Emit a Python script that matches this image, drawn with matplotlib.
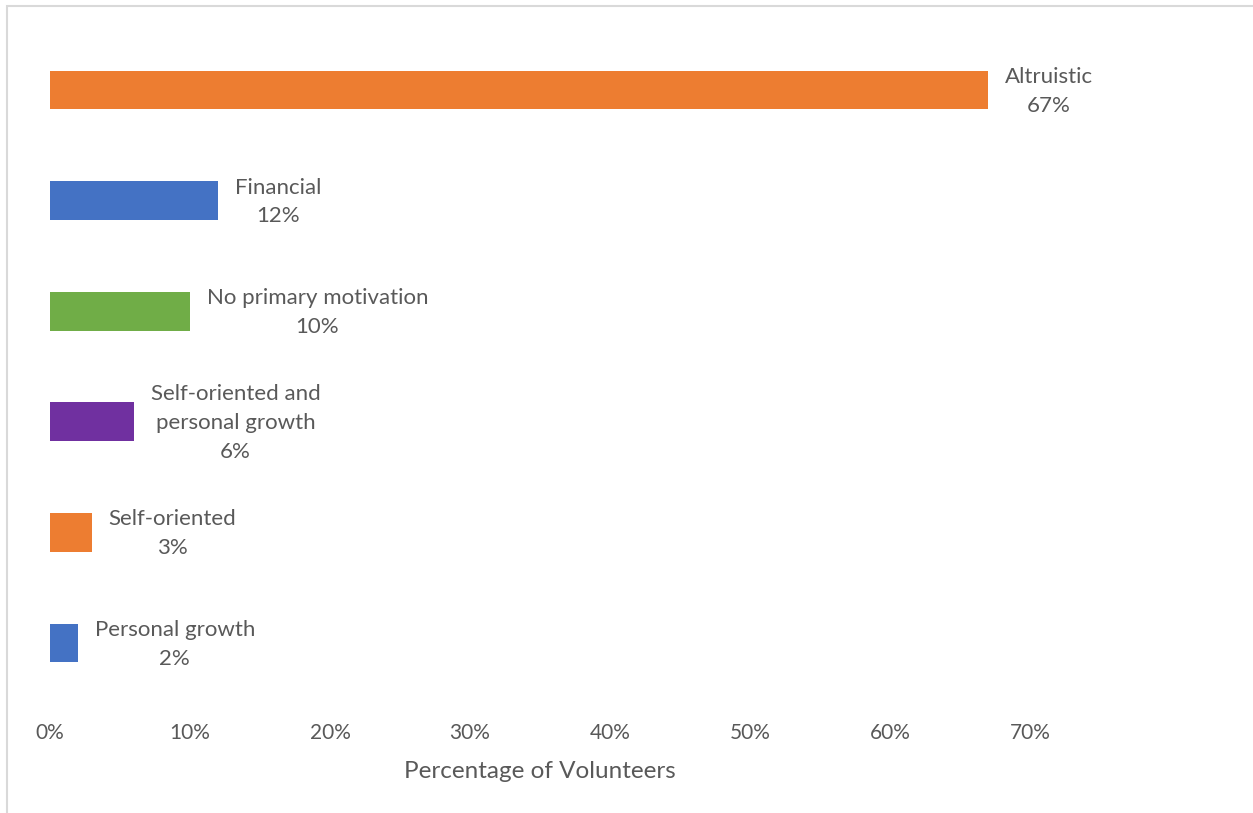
import matplotlib.pyplot as plt
from matplotlib.patches import Rectangle
from matplotlib.ticker import FuncFormatter

# motivation categories, bottom to top
categories = ["Personal growth", "Self-oriented", "Self-oriented and\npersonal growth",
              "No primary motivation", "Financial", "Altruistic"]
shares = [2, 3, 6, 10, 12, 67]
colors = ["#4472C4", "#ED7D31", "#7030A0", "#70AD47", "#4472C4", "#ED7D31"]
ticks = [0, 10, 20, 30, 40, 50, 60, 70]

text_color = "#595959"
plt.rcParams['font.family'] = ['Lato', 'DejaVu Sans']

fig = plt.figure(figsize=(12.53, 8.13), dpi=100)
ax = fig.add_axes([50 / 1253, 0.1411, 980 / 1253, 0.8162])

ypos = range(len(categories))
ax.barh(ypos, shares, height=0.35, color=colors)

for y, v, name in zip(ypos, shares, categories):
    ax.annotate(f"{name}\n{v}%", xy=(v, y), xytext=(12, -1), textcoords="offset points",
                ha="left", va="center", multialignment="center",
                fontsize=16, color=text_color, linespacing=1.55)

ax.set_xlim(0, 70)
ax.set_ylim(-0.5, 5.5)
ax.set_xticks(ticks)
ax.xaxis.set_major_formatter(FuncFormatter(lambda x, _: f"{x:.0f}%"))
ax.set_yticks([])
ax.tick_params(axis="x", length=0, pad=18, labelsize=15, labelcolor=text_color)
for s in ax.spines.values():
    s.set_visible(False)
ax.set_xlabel("Percentage of Volunteers", fontsize=17.5, color=text_color, labelpad=13)

# light frame around the chart area
fig.patches.append(Rectangle((7 / 1253, -0.1), 1.2, 1.1 - 6 / 813, transform=fig.transFigure,
                             fill=False, edgecolor="#D9D9D9", linewidth=1.5))

fig.savefig("out.png", dpi=100)
